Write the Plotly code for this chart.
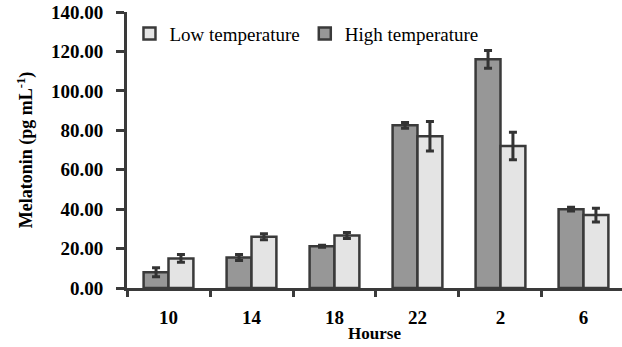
import plotly.graph_objects as go

hours = ["10", "14", "18", "22", "2", "6"]
high_vals = [8.0, 15.5, 21.2, 82.5, 116.0, 40.0]
high_err = [2.3, 1.5, 0.5, 1.5, 4.5, 1.0]
low_vals = [15.0, 26.0, 26.6, 77.0, 72.0, 37.0]
low_err = [2.0, 1.5, 1.5, 7.5, 7.0, 3.5]
y_ticks = [0, 20, 40, 60, 80, 100, 120, 140]

FONT = "'Times New Roman', 'Liberation Serif', 'DejaVu Serif', serif"
OUT = "#3a3a3a"

fig = go.Figure()
fig.add_trace(go.Bar(
    x=hours, y=high_vals, name="High temperature",
    marker=dict(color="#979797", line=dict(color=OUT, width=2.5)),
    error_y=dict(type="data", array=high_err, color="#333333", thickness=3, width=4),
    legendrank=2,
))
fig.add_trace(go.Bar(
    x=hours, y=low_vals, name="Low temperature",
    marker=dict(color="#e4e4e4", line=dict(color=OUT, width=2.5)),
    error_y=dict(type="data", array=low_err, color="#333333", thickness=3, width=4),
    legendrank=1,
))

fig.update_layout(
    width=622, height=347,
    margin=dict(l=127, r=0, t=12, b=59),
    paper_bgcolor="white", plot_bgcolor="white",
    barmode="group", bargap=0.4, bargroupgap=0,
    font=dict(family=FONT, color="#000000"),
    showlegend=True,
    legend=dict(orientation="h", x=0.005, y=0.99, xanchor="left", yanchor="top",
                font=dict(family=FONT, size=19, color="#000000"),
                bgcolor="rgba(0,0,0,0)", itemwidth=30),
    xaxis=dict(
        type="category", range=[-0.5, 5.464],
        showline=True, linecolor=OUT, linewidth=3,
        ticks="outside", tickson="boundaries", ticklen=6, tickwidth=2.5, tickcolor=OUT,
        tickfont=dict(family=FONT, size=19, color="#000000", weight="bold"),
        ticklabelstandoff=10,
        showgrid=False, zeroline=False,
        title=dict(text="Hourse", font=dict(family=FONT, size=17, color="#000000", weight="bold"),
                   standoff=1),
    ),
    yaxis=dict(
        range=[0, 140], tickvals=y_ticks,
        ticktext=[f"{v:.2f}" for v in y_ticks],
        showline=True, linecolor=OUT, linewidth=3,
        ticks="outside", ticklen=8, tickwidth=2.5, tickcolor=OUT,
        tickfont=dict(family=FONT, size=19, color="#000000", weight="bold"),
        ticklabelstandoff=9,
        showgrid=False, zeroline=False,
        title=dict(text="Melatonin (pg mL<sup>-1</sup>)",
                   font=dict(family=FONT, size=18, color="#000000", weight="bold"),
                   standoff=14),
    ),
)

fig.write_html("out.html")
